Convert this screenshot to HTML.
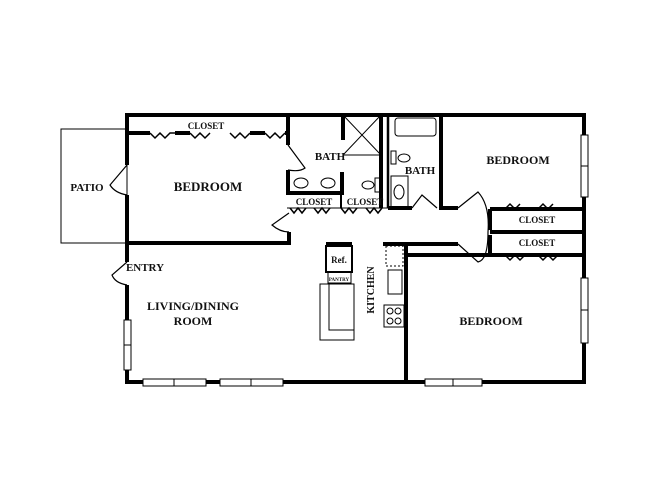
<!DOCTYPE html>
<html><head><style>body{margin:0;background:#fff}svg{display:block}text{font-family:"Liberation Serif",serif;font-weight:bold;fill:#111}</style></head>
<body>
<svg width="650" height="502" viewBox="0 0 650 502" xmlns="http://www.w3.org/2000/svg">
<g fill="none" stroke="#000">
<rect x="61" y="129" width="66" height="114" stroke-width="1"/>
<g stroke-width="4">
<path d="M127,165 V115 H584 V382 H127 V285"/>
<path d="M127,195 V243 H289 V232"/>
<path d="M127,262 V243"/>
<path d="M288,115 V145"/>
<path d="M288,170 V195"/>
<path d="M127,133 H150 M175,133 H190 M250,133 H265 M285,133 H289"/>
<path d="M381,115 V208"/>
<path d="M343,115 V140"/>
<path d="M290,193 H342 V172"/>
<path d="M441,115 V208 H458"/>
<path d="M388,208 H412"/>
<path d="M490,209 H584"/>
<path d="M490,209 V230 M490,235 V255 H584"/>
<path d="M490,232 H584"/>
<path d="M383,244 H458"/>
<path d="M406,244 V382"/>
<path d="M406,255 H490"/>
<path d="M326,244 H352 M384,244 H406"/>
</g>
<path d="M388,115 V208" stroke-width="2.5"/>
<path d="M341,193 V208" stroke-width="2"/>
<path d="M287,208 H388" stroke-width="1"/>
<g stroke-width="1.5">
<path d="M150,133 l5,5 5,-5 5,5 5,-5 5,0 M190,133 l5,5 5,-5 5,5 5,-5 M230,133 l5,5 5,-5 5,5 5,-5 M265,133 l5,5 5,-5 5,5 5,-5"/>
<path d="M290,208 l4,5 4,-5 4,5 4,-5 M314,208 l4,5 4,-5 4,5 4,-5 M341,208 l4,5 4,-5 4,5 4,-5 M366,208 l4,5 4,-5 4,5 4,-5"/>
<path d="M505,209 l5,-5 5,5 5,-5 M538,209 l5,-5 5,5 5,-5"/>
<path d="M505,255 l5,5 5,-5 5,5 5,-5 M538,255 l5,5 5,-5 5,5 5,-5"/>
</g>
<g stroke-width="1.2">
<path d="M127,165 L110,185 Q115,193 127,195"/>
<path d="M288,145 L305,168 Q300,172 288,170"/>
<path d="M289,213 L272,225 Q280,232 289,232"/>
<path d="M127,262 L112,275 Q115,283 127,285"/>
<path d="M412,208 L422,195 L437,208"/>
<path d="M458,208 L478,192 Q490,205 488,232 Q488,260 478,262 L458,244"/>
</g>
<path d="M343,115 L381,155 M381,115 L343,155 M343,155 H381" stroke-width="1"/>
<g stroke-width="1">
<ellipse cx="301" cy="183" rx="7" ry="5"/><ellipse cx="328" cy="183" rx="7" ry="5"/>
<ellipse cx="368" cy="185" rx="6" ry="4"/><rect x="375" y="178" width="5" height="14"/>
<rect x="395" y="118" width="41" height="18" rx="3"/>
<ellipse cx="404" cy="158" rx="6" ry="4"/><rect x="391" y="151" width="5" height="13"/>
<rect x="391" y="176" width="17" height="32"/><ellipse cx="399" cy="192" rx="5" ry="7"/>
<rect x="326" y="246" width="26" height="26" stroke-width="2"/>
<rect x="328" y="272" width="23" height="11"/>
<path d="M320,284 V340 H354 V330 H329 V284 Z M329,284 H354 V330"/>
<rect x="386" y="246" width="17" height="20" stroke-dasharray="2,2"/>
<rect x="388" y="270" width="14" height="24"/>
<rect x="384" y="305" width="20" height="22"/>
<circle cx="390" cy="311" r="3"/><circle cx="398" cy="311" r="3"/><circle cx="390" cy="321" r="3"/><circle cx="398" cy="321" r="3"/>
</g>
<g fill="#fff" stroke-width="1">
<rect x="124" y="320" width="7" height="50"/><path d="M124,345 H131"/>
<rect x="143" y="379" width="63" height="7"/><path d="M174,379 V386"/>
<rect x="220" y="379" width="63" height="7"/><path d="M251,379 V386"/>
<rect x="425" y="379" width="57" height="7"/><path d="M453,379 V386"/>
<rect x="581" y="135" width="7" height="62"/><path d="M581,166 H588"/>
<rect x="581" y="278" width="7" height="65"/><path d="M581,310 H588"/>
</g>
</g>
<text x="206" y="129" font-size="9" text-anchor="middle">CLOSET</text>
<text x="330" y="160" font-size="11" text-anchor="middle">BATH</text>
<text x="208" y="191" font-size="13" text-anchor="middle">BEDROOM</text>
<text x="87" y="191" font-size="11" text-anchor="middle">PATIO</text>
<text x="314" y="205" font-size="9" text-anchor="middle">CLOSET</text>
<text x="365" y="205" font-size="9" text-anchor="middle">CLOSET</text>
<text x="420" y="174" font-size="11" text-anchor="middle">BATH</text>
<text x="518" y="164" font-size="12" text-anchor="middle">BEDROOM</text>
<text x="537" y="223" font-size="9" text-anchor="middle">CLOSET</text>
<text x="537" y="246" font-size="9" text-anchor="middle">CLOSET</text>
<text x="145" y="271" font-size="11" text-anchor="middle">ENTRY</text>
<text x="193" y="310" font-size="12" text-anchor="middle">LIVING/DINING</text>
<text x="193" y="325" font-size="12" text-anchor="middle">ROOM</text>
<text x="491" y="325" font-size="12" text-anchor="middle">BEDROOM</text>
<text x="339" y="263" font-size="9" text-anchor="middle">Ref.</text>
<text x="339" y="281" font-size="5" text-anchor="middle">PANTRY</text>
<text transform="translate(374,290) rotate(-90)" font-size="10" text-anchor="middle">KITCHEN</text>
</svg>
</body></html>
